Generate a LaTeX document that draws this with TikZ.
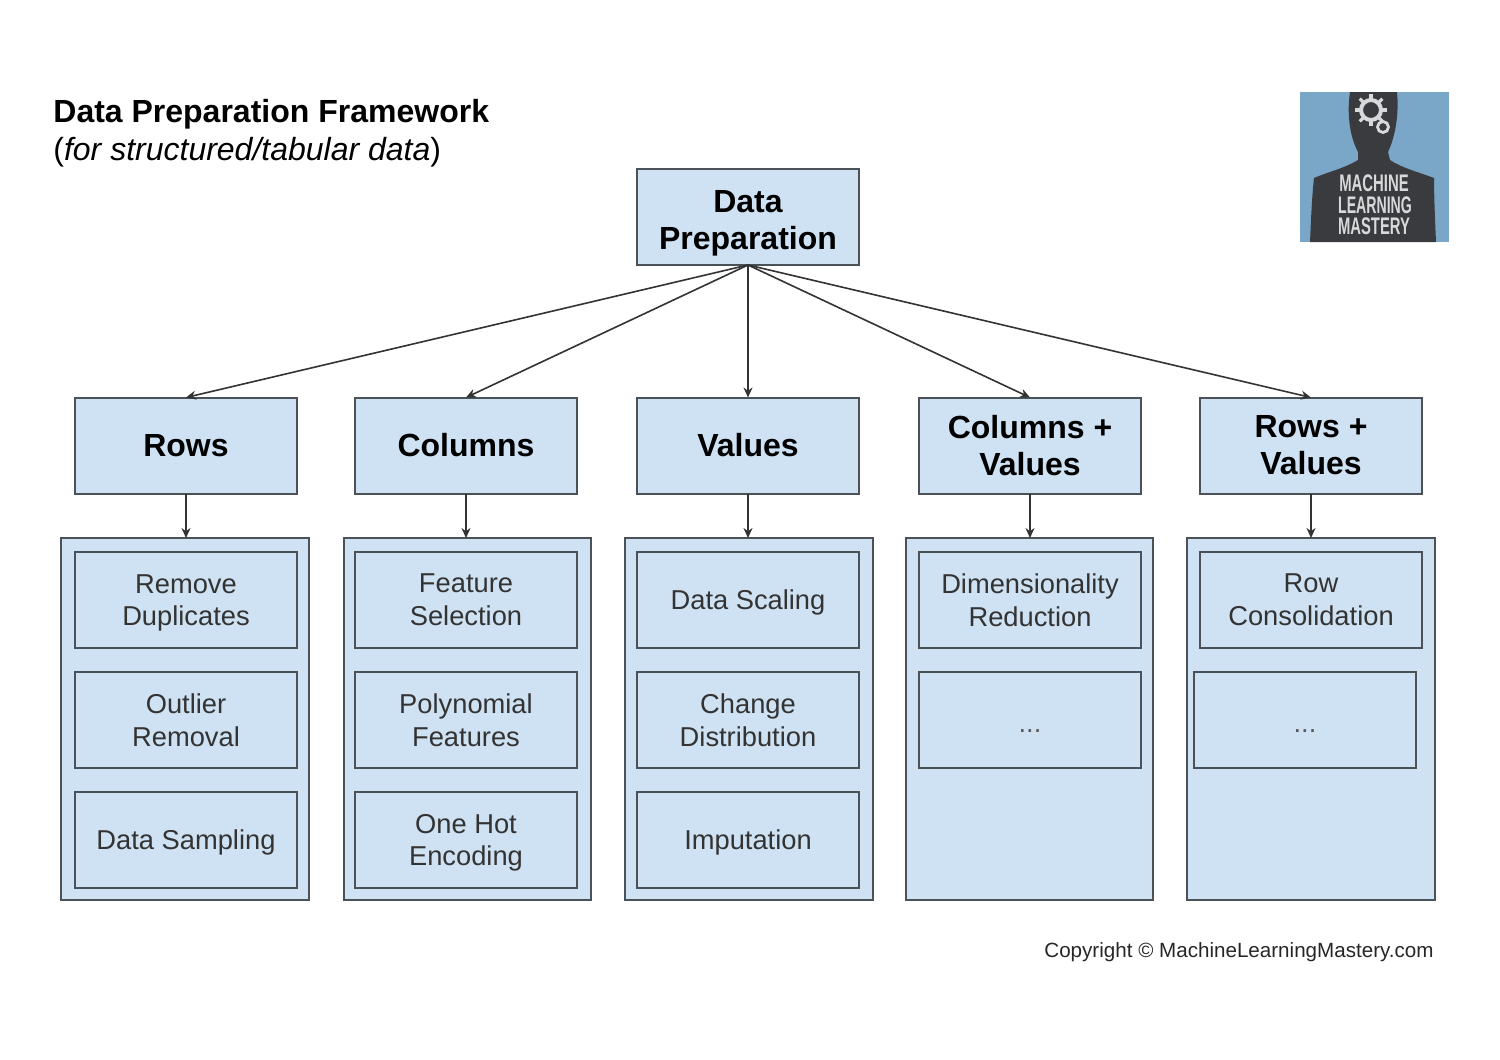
\documentclass[tikz,border=0pt]{standalone}
\usepackage{fontspec}
\setmainfont{Liberation Sans}
\usetikzlibrary{arrows.meta}

\definecolor{boxblue}{HTML}{CFE2F3}
\definecolor{boxline}{HTML}{4A5157}
\definecolor{logoblue}{HTML}{7AA6C8}
\definecolor{logodark}{HTML}{3A3B3E}
\definecolor{logotext}{HTML}{D8D9DA}

% last line without its descender, so that it does not push the text up
\newcommand{\nodp}[1]{\raisebox{0pt}[\height][0pt]{#1}}

\tikzset{
  headbox/.style={draw=boxline, fill=boxblue, line width=1pt, inner sep=0pt, outer sep=0pt,
    minimum width=111pt, minimum height=48pt, align=center,
    font=\fontsize{16}{18.5}\selectfont\bfseries},
  panelbox/.style={draw=boxline, fill=boxblue, line width=1pt, inner sep=0pt, outer sep=0pt,
    minimum width=123.7pt, minimum height=181pt},
  itembox/.style={draw=boxline, fill=boxblue, line width=1pt, inner sep=0pt, outer sep=0pt,
    minimum width=111pt, minimum height=48pt, align=center, text=black!80,
    font=\fontsize{13.65}{16.3}\selectfont},
  arrowline/.style={draw=black!80, line width=0.8pt, -{Stealth[length=5pt,width=4.5pt]}},
  logoword/.style={text=logotext, inner sep=0pt, font=\fontsize{12}{12}\selectfont\bfseries}
}

\begin{document}
\begin{tikzpicture}[x=0.5pt, y=-0.5pt]
\useasboundingbox (0,0) rectangle (1500,1060);

% title
\node[anchor=west, inner sep=0pt, font=\fontsize{16}{18}\selectfont\bfseries] (title) at (53,114) {Data Preparation Framework};
\node[anchor=west, inner sep=0pt, font=\fontsize{16}{18}\selectfont] (subtitle) at (53,152) {(\textit{for structured/tabular data})};

% heads
\node[headbox] (dataprep) at (748,217) {\rule{0pt}{13.6pt}Data\\\nodp{Preparation}};
\foreach \nm/\x/\lab in {rows/186/Rows, columns/466/Columns, values/748/Values, colvals/1030/{Columns +\\Values}, rowvals/1311/{Rows +\\Values}} {
\node[headbox] (\nm) at (\x,445.5) {\lab};
}

% panels
\foreach \nm/\x in {rowspanel/185, colspanel/467.5, valspanel/749, colvalspanel/1029.5, rowvalspanel/1311} {
\node[panelbox] (\nm) at (\x,719) {};
}

% items
\foreach \nm/\x/\y/\lab in {rowsa/186/600/{Remove\\\nodp{Duplicates}}, rowsb/186/720/{Outlier\\Removal}, rowsc/186/840/{\nodp{Data Sampling}},
  colsa/466/600/{Feature\\Selection}, colsb/466/720/{Polynomial\\Features}, colsc/466/840/{One Hot\\\nodp{Encoding}},
  valsa/748/600/{\nodp{Data Scaling}}, valsb/748/720/{Change\\Distribution}, valsc/748/840/{\nodp{Imputation}},
  colvalsa/1030/600/{Dimensionality\\Reduction}, colvalsb/1030/720/{\strut\raisebox{-3pt}{\textcolor{black!65}{...}}},
  rowvalsa/1311/600/{Row\\Consolidation}, rowvalsb/1305/720/{\strut\raisebox{-3pt}{\textcolor{black!65}{...}}}} {
\node[itembox] (\nm) at (\x,\y) {\lab};
}

% arrows
\foreach \nm in {rows,columns,values,colvals,rowvals} {
\draw[arrowline] (dataprep.south) -- (\nm.north);
}
\draw[arrowline] (rows.south) -- (rows.south |- rowspanel.north);
\draw[arrowline] (columns.south) -- (columns.south |- colspanel.north);
\draw[arrowline] (values.south) -- (values.south |- valspanel.north);
\draw[arrowline] (colvals.south) -- (colvals.south |- colvalspanel.north);
\draw[arrowline] (rowvals.south) -- (rowvals.south |- rowvalspanel.north);

% copyright
\node[anchor=east, inner sep=0pt, text=black!85, font=\fontsize{10.3}{12}\selectfont] (copyright) at (1434,952) {Copyright © MachineLearningMastery.com};

% logo
\fill[logoblue] (1300,92) rectangle (1449,242);
\fill[logodark] (1350,92) .. controls (1347,112) and (1349,135) .. (1358,152)
  -- (1358,160) .. controls (1345,168) and (1328,172) .. (1314,178)
  .. controls (1312,195) and (1311,220) .. (1310,242) -- (1436,242)
  .. controls (1435,220) and (1434,195) .. (1434,178)
  .. controls (1418,172) and (1402,168) .. (1390,160)
  -- (1388,152) .. controls (1396,135) and (1399,112) .. (1397,92) -- cycle;
\draw[logotext, line width=2pt] (1371,110) circle (10);
\draw[logotext, line width=1.4pt] (1383,127) circle (5.5);
\foreach \a in {0,45,...,315} {
\draw[logotext, line width=1.6pt] (1371,110) ++(\a:11) -- ++(\a:5);
}
\node[logoword] (logoa) at (1374,183.5) {\scalebox{.62}[1]{MACHINE}};
\node[logoword] (logob) at (1375,205) {\scalebox{.588}[1]{LEARNING}};
\node[logoword] (logoc) at (1374,226.5) {\scalebox{.617}[1]{MASTERY}};

\end{tikzpicture}
\end{document}
